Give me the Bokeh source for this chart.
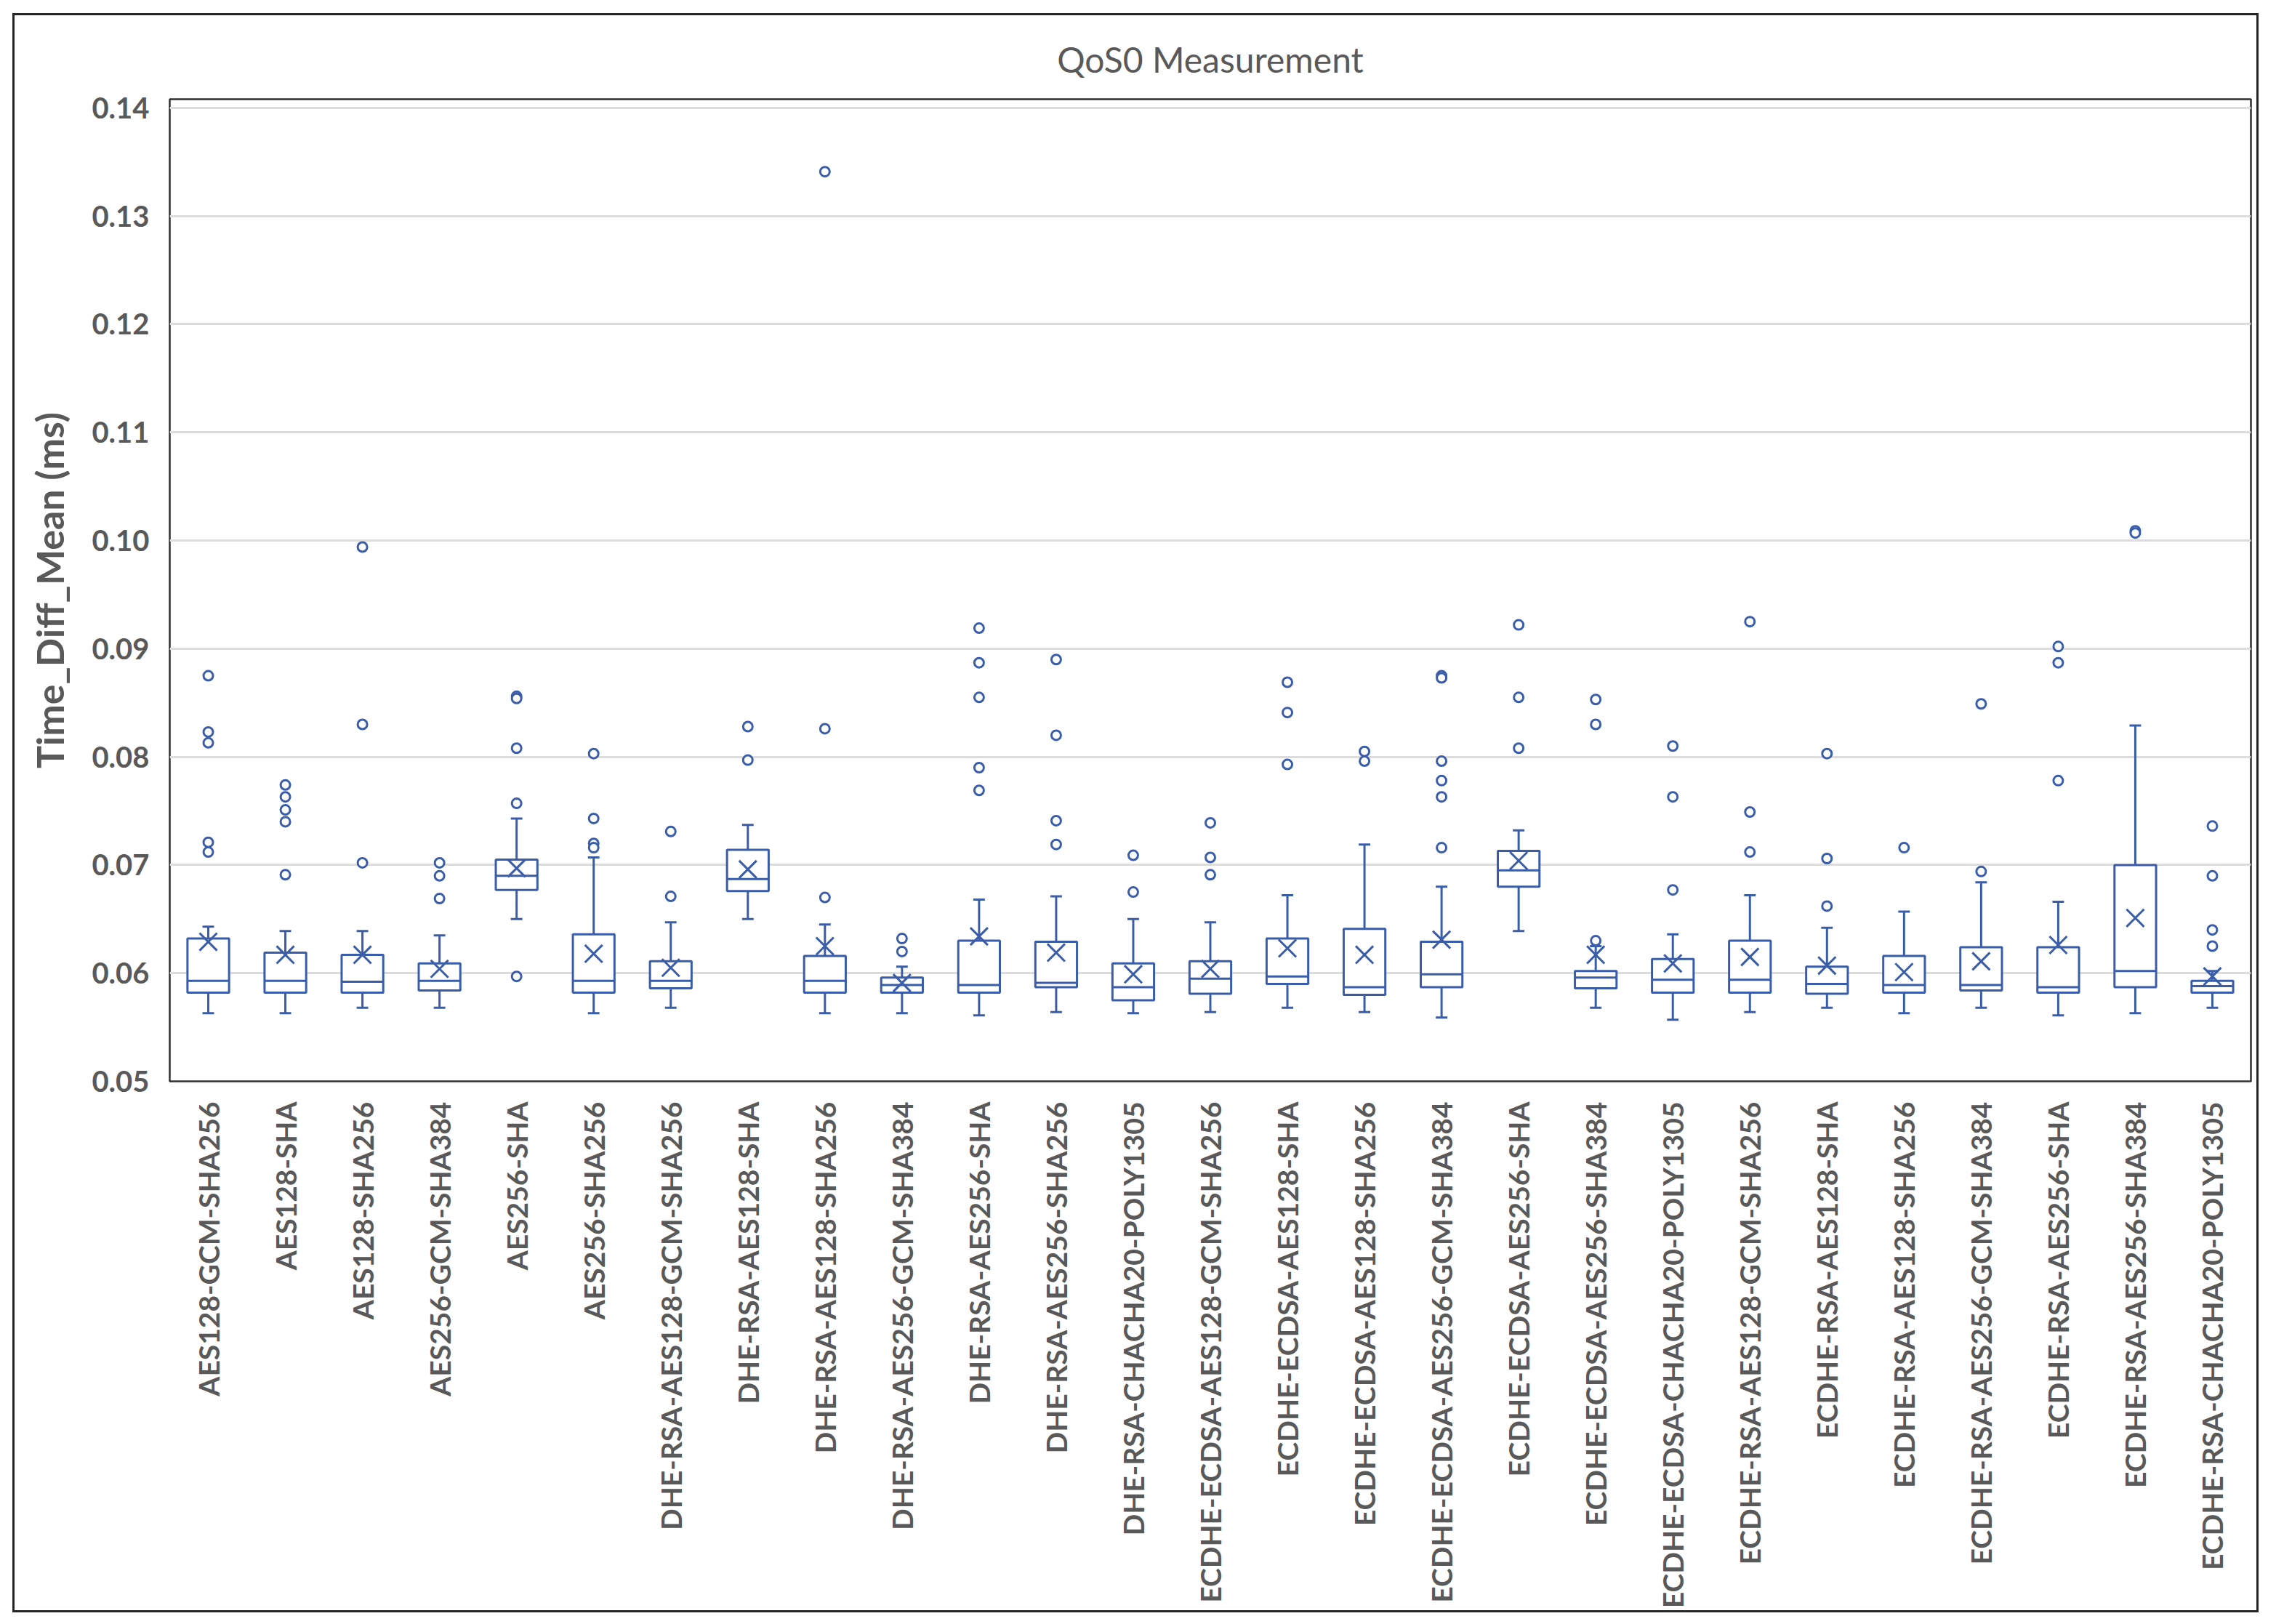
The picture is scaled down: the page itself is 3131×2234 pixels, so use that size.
import math
from bokeh.plotting import figure
from bokeh.layouts import column, row
from bokeh.models import (Range1d, FactorRange, FixedTicker, PrintfTickFormatter,
                          ColumnDataSource, Spacer)
from bokeh.embed import file_html
from bokeh.resources import INLINE

ciphers = [
    "AES128-GCM-SHA256", "AES128-SHA", "AES128-SHA256", "AES256-GCM-SHA384",
    "AES256-SHA", "AES256-SHA256", "DHE-RSA-AES128-GCM-SHA256", "DHE-RSA-AES128-SHA",
    "DHE-RSA-AES128-SHA256", "DHE-RSA-AES256-GCM-SHA384", "DHE-RSA-AES256-SHA",
    "DHE-RSA-AES256-SHA256", "DHE-RSA-CHACHA20-POLY1305", "ECDHE-ECDSA-AES128-GCM-SHA256",
    "ECDHE-ECDSA-AES128-SHA", "ECDHE-ECDSA-AES128-SHA256", "ECDHE-ECDSA-AES256-GCM-SHA384",
    "ECDHE-ECDSA-AES256-SHA", "ECDHE-ECDSA-AES256-SHA384", "ECDHE-ECDSA-CHACHA20-POLY1305",
    "ECDHE-RSA-AES128-GCM-SHA256", "ECDHE-RSA-AES128-SHA", "ECDHE-RSA-AES128-SHA256",
    "ECDHE-RSA-AES256-GCM-SHA384", "ECDHE-RSA-AES256-SHA", "ECDHE-RSA-AES256-SHA384",
    "ECDHE-RSA-CHACHA20-POLY1305",
]

w_low = [0.0563, 0.0563, 0.0568, 0.0568, 0.0650, 0.0563, 0.0568, 0.0650, 0.0563,
         0.0563, 0.0561, 0.0564, 0.0563, 0.0564, 0.0568, 0.0564, 0.0559, 0.0639,
         0.0568, 0.0557, 0.0564, 0.0568, 0.0563, 0.0568, 0.0561, 0.0563, 0.0568]
q1 = [0.0582, 0.0582, 0.0582, 0.0584, 0.0677, 0.0582, 0.0586, 0.0676, 0.0582,
      0.0582, 0.0582, 0.0587, 0.0575, 0.0581, 0.0590, 0.0580, 0.0587, 0.0680,
      0.0586, 0.0582, 0.0582, 0.0581, 0.0582, 0.0584, 0.0582, 0.0587, 0.0582]
median = [0.0593, 0.0593, 0.0592, 0.0593, 0.0690, 0.0593, 0.0593, 0.0687, 0.0593,
          0.0589, 0.0589, 0.0591, 0.0587, 0.0595, 0.0597, 0.0587, 0.0599, 0.0695,
          0.0596, 0.0594, 0.0594, 0.0590, 0.0589, 0.0589, 0.0587, 0.0602, 0.0588]
q3 = [0.0632, 0.0619, 0.0617, 0.0609, 0.0705, 0.0636, 0.0611, 0.0714, 0.0616,
      0.0596, 0.0630, 0.0629, 0.0609, 0.0611, 0.0632, 0.0641, 0.0629, 0.0713,
      0.0602, 0.0613, 0.0630, 0.0606, 0.0616, 0.0624, 0.0624, 0.0700, 0.0593]
w_high = [0.0643, 0.0639, 0.0639, 0.0635, 0.0743, 0.0707, 0.0647, 0.0737, 0.0645,
          0.0606, 0.0668, 0.0671, 0.0650, 0.0647, 0.0672, 0.0719, 0.0680, 0.0732,
          0.0625, 0.0636, 0.0672, 0.0642, 0.0657, 0.0684, 0.0666, 0.0829, 0.0602]
mean = [0.0629, 0.0617, 0.0617, 0.0604, 0.0697, 0.0618, 0.0605, 0.0696, 0.0625,
        0.0591, 0.0634, 0.0619, 0.0599, 0.0604, 0.0623, 0.0617, 0.0631, 0.0704,
        0.0617, 0.0609, 0.0615, 0.0607, 0.0601, 0.0611, 0.0626, 0.0651, 0.0597]
outliers = [
    [0.0875, 0.0823, 0.0813, 0.0721, 0.0712],
    [0.0774, 0.0763, 0.0751, 0.0740, 0.0691],
    [0.0994, 0.0830, 0.0702],
    [0.0702, 0.0690, 0.0669],
    [0.0856, 0.0854, 0.0808, 0.0757, 0.0597],
    [0.0803, 0.0743, 0.0720, 0.0716],
    [0.0731, 0.0671],
    [0.0828, 0.0797],
    [0.1341, 0.0826, 0.0670],
    [0.0632, 0.0620],
    [0.0919, 0.0887, 0.0855, 0.0790, 0.0769],
    [0.0890, 0.0820, 0.0741, 0.0719],
    [0.0709, 0.0675],
    [0.0739, 0.0707, 0.0691],
    [0.0869, 0.0841, 0.0793],
    [0.0805, 0.0796],
    [0.0875, 0.0873, 0.0796, 0.0778, 0.0763, 0.0716],
    [0.0922, 0.0855, 0.0808],
    [0.0853, 0.0830, 0.0630],
    [0.0810, 0.0763, 0.0677],
    [0.0925, 0.0749, 0.0712],
    [0.0803, 0.0706, 0.0662],
    [0.0716],
    [0.0849, 0.0694],
    [0.0902, 0.0887, 0.0778],
    [0.1009, 0.1007],
    [0.0736, 0.0690, 0.0640, 0.0625],
]
y_ticks = [0.05, 0.06, 0.07, 0.08, 0.09, 0.10, 0.11, 0.12, 0.13, 0.14]
chart_title = "QoS0 Measurement"

BLUE = "#3A5DAA"
TXT = "#595959"
FONT = "Lato"

p = figure(
    width=3090, height=2200,
    x_range=FactorRange(factors=ciphers),
    y_range=Range1d(0.05, 0.1408),
    output_backend="svg", toolbar_location=None,
    min_border_left=213, min_border_right=14, min_border_top=115, min_border_bottom=734,
)
p.styles = {"border": "3px solid #262626"}

p.title.text = chart_title
p.title.align = "center"
p.title.offset = -101          # centre on the whole chart rather than the plot frame
p.title.text_font = FONT
p.title.text_font_size = "48px"
p.title.text_font_style = "normal"
p.title.text_color = TXT
p.title.standoff = 54

p.outline_line_color = "#303030"
p.outline_line_width = 2.5
p.xgrid.grid_line_color = None
p.ygrid.grid_line_color = "#DCDCDC"
p.ygrid.grid_line_width = 3

p.yaxis.ticker = FixedTicker(ticks=y_ticks)
p.yaxis.formatter = PrintfTickFormatter(format="%.2f")
p.yaxis.axis_label = "Time_Diff_Mean (ms)"
for ax in (p.xaxis[0], p.yaxis[0]):
    ax.axis_line_color = None
    ax.major_tick_line_color = None
    ax.minor_tick_line_color = None
    ax.major_label_text_font = FONT
    ax.major_label_text_font_style = "bold"
    ax.major_label_text_color = TXT
p.yaxis.major_label_text_font_size = "40px"
p.xaxis.major_label_text_font_size = "39px"
p.yaxis.major_label_standoff = 22
p.yaxis.axis_label_text_font = FONT
p.yaxis.axis_label_text_font_style = "bold"
p.yaxis.axis_label_text_font_size = "52px"
p.yaxis.axis_label_text_color = TXT
p.yaxis.axis_label_standoff = 24
p.xaxis.major_label_orientation = math.pi / 2
p.xaxis.major_label_standoff = 22

src = ColumnDataSource(dict(x=ciphers, lo=w_low, q1=q1, med=median, q3=q3, hi=w_high, mean=mean))

p.segment(x0="x", y0="q3", x1="x", y1="hi", source=src, line_color=BLUE, line_width=3)
p.segment(x0="x", y0="q1", x1="x", y1="lo", source=src, line_color=BLUE, line_width=3)
p.vbar(x="x", bottom="hi", top="hi", width=0.15, source=src, fill_color=None, line_color=BLUE, line_width=3)
p.vbar(x="x", bottom="lo", top="lo", width=0.15, source=src, fill_color=None, line_color=BLUE, line_width=3)
p.vbar(x="x", bottom="q1", top="q3", width=0.54, source=src, fill_color="white", line_color=BLUE, line_width=3)
p.vbar(x="x", bottom="med", top="med", width=0.54, source=src, fill_color=None, line_color=BLUE, line_width=3)
p.scatter(x="x", y="mean", source=src, marker="x", size=34, line_color=BLUE, line_width=3)

out_x = [c for c, vals in zip(ciphers, outliers) for _ in vals]
out_y = [v for vals in outliers for v in vals]
p.scatter(x=out_x, y=out_y, marker="circle", size=13, fill_color="white", line_color=BLUE, line_width=3)

root = column(Spacer(width=17, height=18), row(Spacer(width=17, height=10), p))
open("out.html", "w").write(file_html(root, INLINE))
